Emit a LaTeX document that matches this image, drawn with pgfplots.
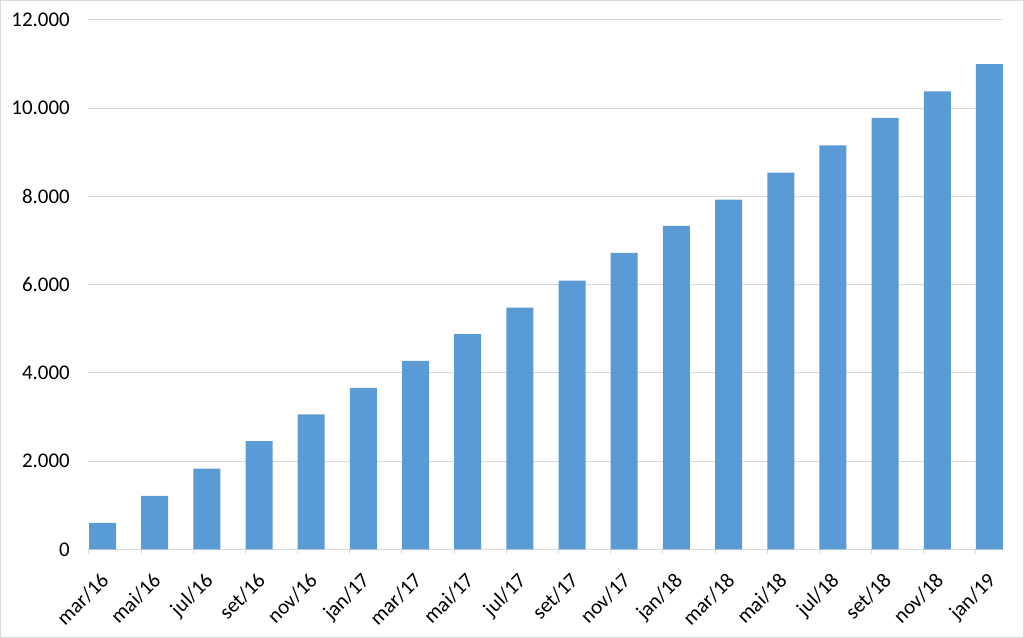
\documentclass[border=0pt]{standalone}
\usepackage{pgfplots}
\pgfplotsset{compat=1.18}
\usepackage{fontspec}
\setmainfont{Carlito}
\definecolor{barblue}{HTML}{5B9BD5}
\definecolor{gridgray}{HTML}{D9D9D9}
\begin{document}
\begin{tikzpicture}
\useasboundingbox (0,0) rectangle (1024bp,638bp);
\draw[gridgray, line width=1bp] (0.5bp,0.5bp) rectangle (1023.5bp,637.5bp);
\begin{axis}[
  at={(88bp,88.7bp)}, anchor=south west,
  scale only axis, width=915bp, height=529.3bp,
  ybar, bar width=27bp,
  xmin=-0.278, xmax=17.26,
  ymin=0, ymax=12000,
  ytick={0,2000,...,12000},
  scaled y ticks=false,
  xtick=data,
  xticklabels={mar/16,mai/16,jul/16,set/16,nov/16,jan/17,mar/17,mai/17,jul/17,set/17,nov/17,jan/18,mar/18,mai/18,jul/18,set/18,nov/18,jan/19},
  axis line style={draw=none},
  tick style={gridgray, line width=1bp},
  major tick length=0pt,
  xtick pos=bottom, ytick pos=left,
  ymajorgrids, grid style={gridgray, line width=1bp},
  extra x ticks={-0.26,0.74,1.74,2.74,3.74,4.74,5.74,6.74,7.74,8.74,9.74,10.74,11.74,12.74,13.74,14.74,15.74,16.74},
  extra x tick labels={},
  extra x tick style={xmajorgrids=false, major tick length=5bp, tick align=outside},
  ticklabel style={font=\fontsize{21}{25}\selectfont},
  /pgf/number format/.cd, assume math mode=true, 1000 sep={.}, /pgfplots/.cd,
  yticklabel style={anchor=east, inner sep=0pt, xshift=-18bp},
  xticklabel style={inner sep=0pt, xshift=-3bp, yshift=-22bp, rotate=45, anchor=north east},
]
\addplot[fill=barblue, draw=none] coordinates {
  (0,600) (1,1210) (2,1830) (3,2450) (4,3060) (5,3660) (6,4270) (7,4880) (8,5480)
  (9,6090) (10,6720) (11,7330) (12,7930) (13,8540) (14,9160) (15,9780) (16,10380) (17,11000)
};
\end{axis}
\end{tikzpicture}
\end{document}
